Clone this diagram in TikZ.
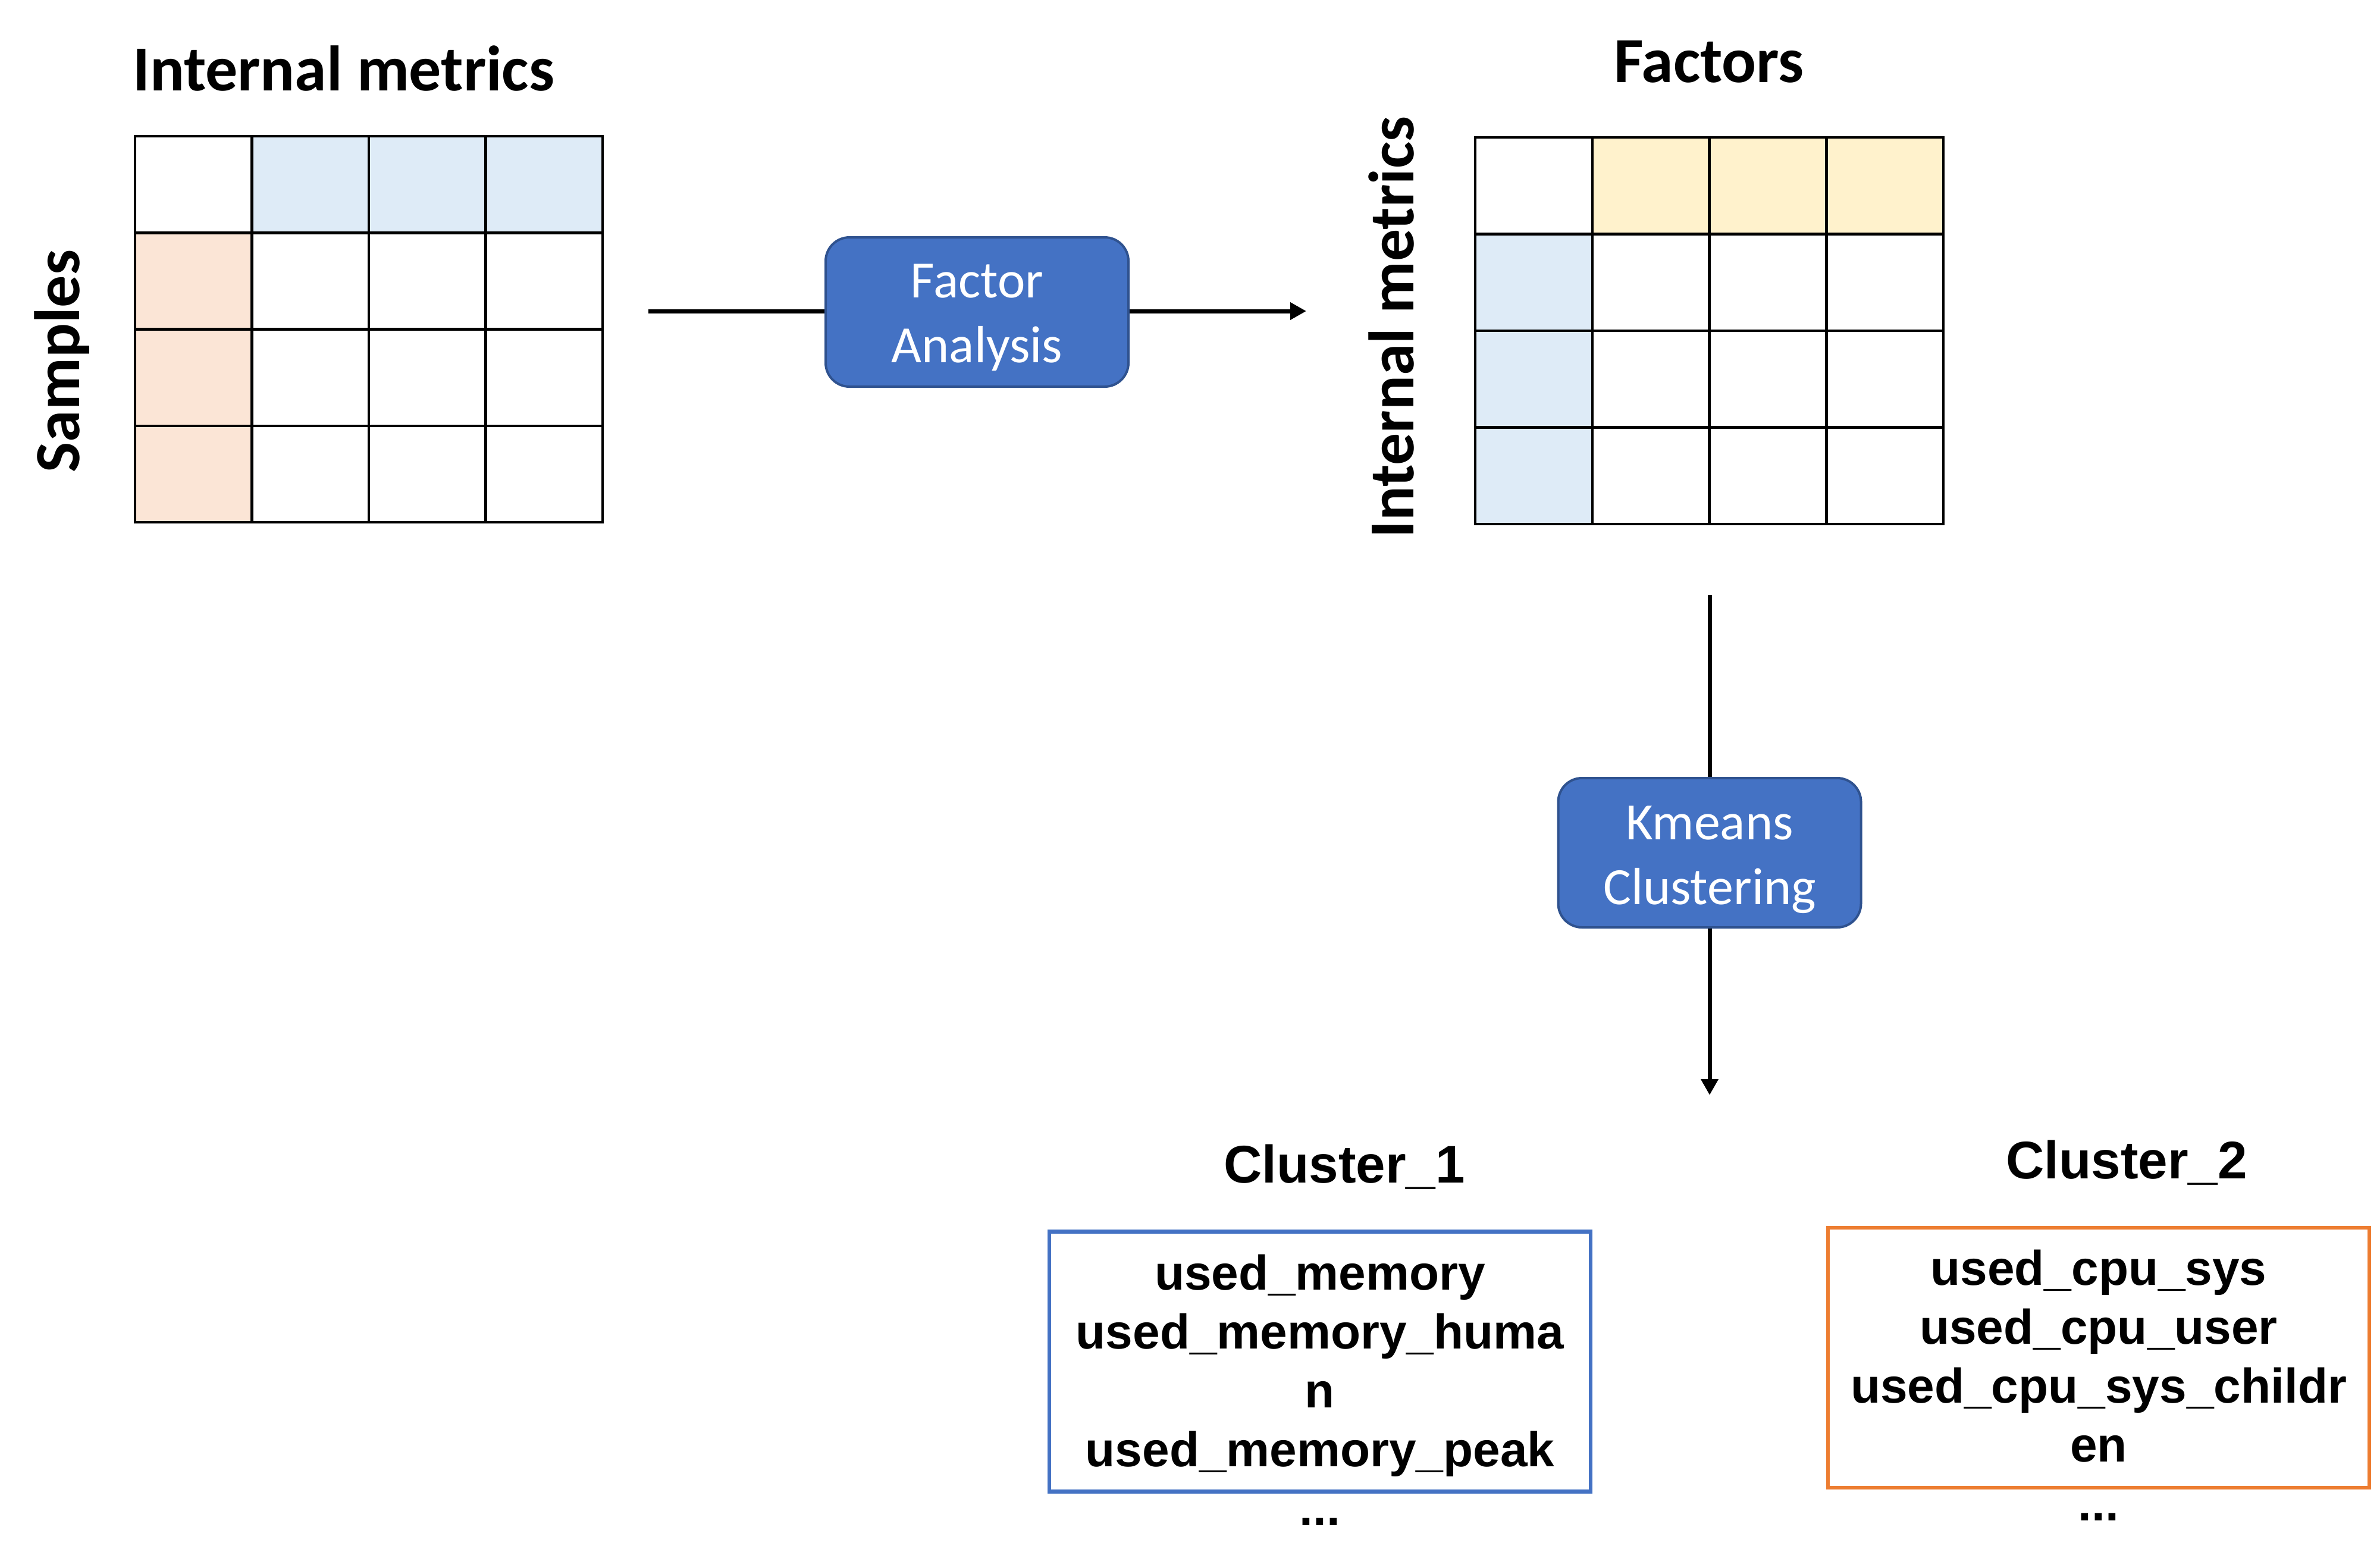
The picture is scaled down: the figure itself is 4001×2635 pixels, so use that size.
\documentclass[tikz,border=0pt]{standalone}
\usepackage{fontspec}
\setmainfont{Carlito}
\newfontfamily\arialfont{Liberation Sans}
\newfontfamily\califont{Carlito}
\usetikzlibrary{arrows.meta}
\definecolor{cellblue}{HTML}{DEEBF7}
\definecolor{cellpeach}{HTML}{FBE5D6}
\definecolor{cellyellow}{HTML}{FFF2CC}
\definecolor{procfill}{HTML}{4472C4}
\definecolor{procline}{HTML}{2F528F}
\definecolor{clblue}{HTML}{4472C4}
\definecolor{clorange}{HTML}{ED7D31}
\begin{document}
\begin{tikzpicture}[x=1pt,y=-1pt,
  cellA/.style={draw=black, line width=4.5pt, minimum width=196.5pt, minimum height=162.3pt, inner sep=0pt, outer sep=0pt, anchor=north west},
  cellB/.style={draw=black, line width=4.5pt, minimum width=196.75pt, minimum height=162.5pt, inner sep=0pt, outer sep=0pt, anchor=north west},
  title/.style={font=\califont\bfseries\fontsize{108}{130}\selectfont, inner sep=0pt, anchor=base},
  proc/.style={draw=procline, line width=4pt, fill=procfill, rounded corners=40pt, minimum width=509pt, minimum height=251pt, inner sep=0pt},
  proctext/.style={font=\califont\fontsize{88}{109}\selectfont, text=white, align=center, inner sep=0pt, anchor=north},
  flow/.style={draw=black, line width=7pt},
  tip/.style={-{Triangle[length=27pt,width=28pt]}},
  clbox/.style={line width=6.5pt, minimum width=910pt, minimum height=437pt, inner sep=0pt},
  cltitle/.style={font=\arialfont\bfseries\fontsize{89}{107}\selectfont, inner sep=0pt, anchor=base},
  cltext/.style={font=\arialfont\bfseries\fontsize{82}{99}\selectfont, align=center, inner sep=0pt, anchor=north}
]
\useasboundingbox (0,0) rectangle (4001,2635);

% ---------- grid 1 ----------
\foreach \c in {1,2,3}
  \node[cellA, fill=cellblue] (ga-0-\c) at ({227+\c*196.5},229) {};
\foreach \r in {1,2,3}
  \node[cellA, fill=cellpeach] (ga-\r-0) at (227,{229+\r*162.3}) {};
\node[cellA] (ga-0-0) at (227,229) {};
\foreach \r in {1,2,3}
  \foreach \c in {1,2,3}
    \node[cellA] (ga-\r-\c) at ({227+\c*196.5},{229+\r*162.3}) {};

\node[title, anchor=base west] (t-im1) at (223,152) {Internal metrics};
\node[title, rotate=90] (t-samples) at (133,607) {Samples};

% ---------- grid 2 ----------
\foreach \c in {1,2,3}
  \node[cellB, fill=cellyellow] (gb-0-\c) at ({2480+\c*196.75},231) {};
\foreach \r in {1,2,3}
  \node[cellB, fill=cellblue] (gb-\r-0) at (2480,{231+\r*162.5}) {};
\node[cellB] (gb-0-0) at (2480,231) {};
\foreach \r in {1,2,3}
  \foreach \c in {1,2,3}
    \node[cellB] (gb-\r-\c) at ({2480+\c*196.75},{231+\r*162.5}) {};

\node[title] (t-factors) at (2873,138) {Factors};
\node[title, rotate=90] (t-im2) at (2376,550) {Internal metrics};

% ---------- factor analysis ----------
\coordinate (fa-in) at (1090,523);
\coordinate (fa-out) at (2196,523);
\node[proc] (fa) at (1642.5,524.5) {};
\draw[flow] (fa-in) -- (fa.west |- fa-in);
\draw[flow, tip] (fa.east |- fa-out) -- (fa-out);
\node[proctext] (fa-t) at (1642.5,444) {Factor\\Analysis};

% ---------- kmeans ----------
\coordinate (km-in) at (2874,1000);
\coordinate (km-out) at (2874,1841);
\node[proc] (km) at (2874,1433.5) {};
\draw[flow] (km-in) -- (km.north);
\draw[flow, tip] (km.south) -- (km-out);
\node[proctext] (km-t) at (2874,1355) {Kmeans\\Clustering};

% ---------- clusters ----------
\node[cltitle] (c1-title) at (2260,1988) {Cluster\_1};
\node[clbox, draw=clblue] (c1) at (2219,2289) {};
\node[cltext] (c1-t) at (2219,2109) {used\_memory\\used\_memory\_huma\\n\\used\_memory\_peak\\...};

\node[cltitle] (c2-title) at (3575,1981) {Cluster\_2};
\node[clbox, draw=clorange] (c2) at (3528,2282.5) {};
\node[cltext] (c2-t) at (3528,2101) {used\_cpu\_sys\\used\_cpu\_user\\used\_cpu\_sys\_childr\\en\\...};
\end{tikzpicture}
\end{document}
